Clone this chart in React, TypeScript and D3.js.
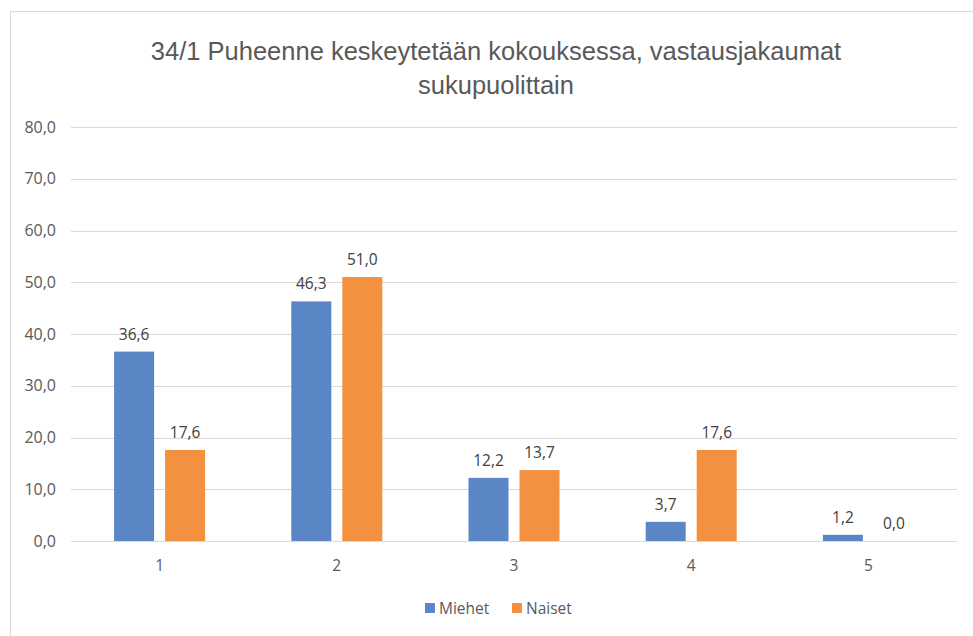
import React from "react";
import * as d3 from "d3";

// Response categories on the 1–5 scale
const categories = ["1", "2", "3", "4", "5"];
// Share of respondents (%) by gender
const miehet = [36.6, 46.3, 12.2, 3.7, 1.2];
const naiset = [17.6, 51.0, 13.7, 17.6, 0.0];
const seriesNames = ["Miehet", "Naiset"];
const yTicks = [0, 10, 20, 30, 40, 50, 60, 70, 80];
const titleLines = [
  "34/1 Puheenne keskeytetään kokouksessa, vastausjakaumat",
  "sukupuolittain",
];

const W = 973;
const H = 636;
const colors = ["#5A86C5", "#F39141"];
const FONT = "'Open Sans', 'Liberation Sans', sans-serif";

const fmt = (v: number) => v.toFixed(1).replace(".", ",");

export default function App() {
  const plot = { left: 71, right: 957, top: 127, bottom: 541 };
  const x = d3
    .scaleBand<string>()
    .domain(categories)
    .range([plot.left, plot.right])
    .paddingInner(0)
    .paddingOuter(0);
  const y = d3.scaleLinear().domain([0, 80]).range([plot.bottom, plot.top]);

  const barW = 40;
  const gap = 11;
  const series = [miehet, naiset];

  return (
    <svg
      width={W}
      height={H}
      style={{ position: "absolute", left: 0, top: 0, background: "#fff" }}
      fontFamily={FONT}
    >
      <rect x={10.5} y={11.5} width={980} height={660} fill="#fff" stroke="#D9D9D9" strokeWidth={1} />

      {titleLines.map((t, i) => (
        <text
          key={i}
          x={496}
          y={60 + i * 34}
          textAnchor="middle"
          fontSize={25.5}
          fill="#595959"
          fontFamily="'Liberation Sans', sans-serif"
        >
          {t}
        </text>
      ))}

      {yTicks.map((t) => (
        <g key={t}>
          <line
            x1={plot.left}
            x2={plot.right}
            y1={Math.round(y(t)) + 0.5}
            y2={Math.round(y(t)) + 0.5}
            stroke="#D9D9D9"
            strokeWidth={1}
          />
          <text
            x={56}
            y={y(t)}
            dy="0.35em"
            textAnchor="end"
            fontSize={16}
            fill="#595959"
          >
            {fmt(t)}
          </text>
        </g>
      ))}

      {categories.map((c, ci) => {
        const cx = (x(c) as number) + x.bandwidth() / 2;
        return (
          <g key={c}>
            {series.map((s, si) => {
              const bx = cx - gap / 2 - barW + si * (barW + gap);
              const v = s[ci];
              return (
                <g key={si}>
                  {v > 0 && (
                    <rect
                      x={bx}
                      y={y(v)}
                      width={barW}
                      height={y(0) - y(v)}
                      fill={colors[si]}
                    />
                  )}
                  <text
                    x={bx + barW / 2}
                    y={y(v) - 12}
                    textAnchor="middle"
                    fontSize={15.5}
                    fill="#404040"
                  >
                    {fmt(v)}
                  </text>
                </g>
              );
            })}
            <text
              x={cx}
              y={plot.bottom + 30}
              textAnchor="middle"
              fontSize={15.5}
              fill="#595959"
            >
              {c}
            </text>
          </g>
        );
      })}

      {/* legend */}
      {seriesNames.map((n, i) => {
        const lx = i === 0 ? 425 : 512;
        return (
          <g key={n}>
            <rect x={lx} y={603} width={10} height={10} fill={colors[i]} />
            <text x={lx + 14} y={614} fontSize={15.5} fill="#595959">
              {n}
            </text>
          </g>
        );
      })}
    </svg>
  );
}
